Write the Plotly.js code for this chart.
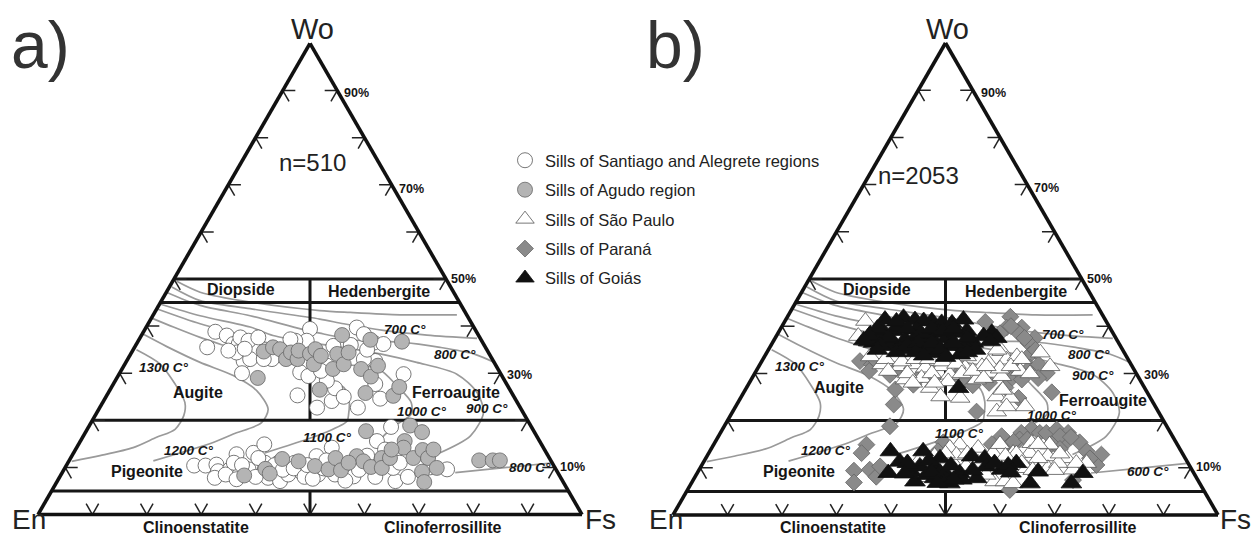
<!DOCTYPE html>
<html>
<head>
<meta charset="utf-8">
<script src="https://cdn.plot.ly/plotly-3.0.1.min.js"></script>
<style>html,body{margin:0;padding:0;background:#fff}#chart{width:1253px;height:538px}</style>
</head>
<body>
<div id="chart"></div>
<script>
// Compositions: Wo in %, pos = position along the En-Fs base in % (pos = Fs + Wo/2)
const santiagoPos = [32.6,31.1,34.7,35.9,36.9,37.2,38.7,40.5,37.8,37.5,36.5,39.0,50.0,49.4,47.3,58.6,59.9,61.7,63.5,48.2,49.7,47.7,51.3,54.0,54.6,56.2,58.8,62.9,62.0,53.1,67.2,54.3,53.1,62.0,59.9,46.4,43.0,35.0,38.0,41.5,52.0,57.5,60.5,
  28.7,30.8,32.8,33.1,35.3,36.5,39.6,41.6,32.5,38.7,41.7,42.3,44.5,46.0,48.5,50.0,51.5,51.2,54.0,58.0,62.3,64.9,65.7,65.3,75.2,59.5,47.2,41.7,37.1,54.6,63.8,44.2,
  34.5,36.0,37.5,40.0,43.5,45.0,47.0,49.0,49.5,50.5,52.5,53.0,55.5,56.5,59.0,60.5,62.0,66.5,68.0,72.0,40.5,36.5];
const santiagoWo  = [38.8,35.5,38.0,36.2,36.2,37.6,36.9,37.6,32.6,30.0,34.4,33.0,39.4,36.9,36.9,39.7,38.3,36.5,36.2,30.2,29.4,25.3,22.7,24.1,26.8,25.0,22.7,24.6,27.7,28.4,29.8,35.8,31.6,32.6,33.0,37.2,33.0,34.8,35.2,33.0,30.5,36.0,35.0,
  10.4,10.4,10.6,9.2,9.6,12.8,13.1,14.9,7.8,9.6,11.0,7.8,7.1,8.5,8.9,8.9,8.5,12.4,14.2,8.1,15.6,18.6,7.1,9.9,9.6,11.0,11.0,9.6,8.5,8.5,13.8,11.0,
  8.5,11.0,10.5,8.0,10.5,9.5,9.8,8.0,10.5,7.6,9.8,11.5,10.0,7.2,9.5,12.5,8.0,11.0,8.0,10.0,12.0,7.5];
const agudoPos = [41.5,43.2,44.5,45.6,46.5,47.7,47.9,50.0,50.7,51.0,52.0,55.0,55.9,54.2,56.2,57.1,59.4,61.2,62.5,61.1,66.9,51.8,60.2,65.3,66.4,40.4,
  37.9,41.8,42.6,44.9,47.9,50.9,53.4,54.7,55.7,58.6,59.8,61.2,63.2,63.2,64.7,60.3,68.4,70.6,67.4,67.2,69.0,70.7,71.7,72.7,73.3,70.6,71.0,81.1,83.6,84.9,57.1,65.0];
const agudoWo  = [34.6,35.5,35.1,33.0,34.4,33.0,34.8,34.1,31.9,35.1,33.7,34.1,38.1,30.9,31.9,34.4,30.9,29.3,31.6,37.1,36.7,26.5,25.8,25.2,27.1,29.0,
  8.3,9.7,8.7,11.8,11.3,10.3,9.6,12.0,9.4,12.4,11.3,10.1,12.0,9.9,12.0,17.7,18.9,17.5,15.6,14.2,12.0,13.7,12.0,13.8,9.9,9.1,6.9,11.5,11.5,11.5,11.0,13.8];
const saoPauloPos = [35.3,34.0,37.7,38.3,41.7,44.1,46.3,42.6,45.6,49.3,50.8,47.2,49.1,52.7,53.6,57.9,60.3,61.2,58.2,55.7,67.4,69.2,63.7,60.3,59.4,61.9,64.6,59.4,56.7,40.5,53.9,36.2,63.1,50.5,61.2,
  39.0,42.0,44.5,47.0,49.5,52.0,39.5,43.0,47.5,53.0,55.0,57.0,60.0,62.0,64.0,59.5,65.5,60.5,57.5,48.0,44.0,
  52.6,50.8,56.0,58.7,62.4,65.8,65.5,69.1,68.8,72.2,75.9,59.3,59.0,60.9,62.4,57.5,64.9,68.8,70.7,45.3,43.1,51.4,53.8,73.4,52.0,
  60.0,63.0,67.0,71.0,54.0,48.0,50.0,67.0,74.0,56.0,61.0,64.0,66.0,70.0,47.0,52.0];
const saoPauloWo  = [41.1,37.9,34.0,31.9,31.5,31.9,31.2,28.7,29.0,31.5,29.7,26.9,25.1,24.8,31.2,32.2,34.7,32.9,30.1,28.7,34.4,31.5,30.5,29.4,25.1,24.8,23.0,21.9,31.5,33.3,33.6,33.6,33.6,28.3,23.0,
  33.0,32.5,33.0,33.0,32.5,32.0,30.5,30.0,30.0,30.0,30.5,29.0,31.0,31.5,33.0,35.0,30.0,26.5,31.5,28.0,28.0,
  14.9,14.2,14.2,13.1,13.1,15.2,13.1,14.9,12.4,12.0,11.0,10.6,7.1,7.1,6.7,8.5,9.9,9.9,11.0,11.7,11.0,11.0,10.3,9.6,12.7,
  15.0,13.0,12.0,13.0,13.0,12.5,13.0,15.0,11.0,11.0,12.5,11.0,9.5,9.5,8.0,8.0];
const paranaPos = [34.3,36.5,39.8,40.8,40.5,44.1,47.8,52.1,53.6,61.9,57.3,61.2,64.0,63.4,66.4,65.2,65.5,65.5,67.1,68.6,61.9,64.0,69.5,63.4,55.7,
  60.0,62.0,64.5,66.5,63.0,67.0,61.0,58.0,37.0,41.0,45.0,55.0,36.0,
  39.8,35.5,34.6,33.2,33.2,36.1,37.3,38.0,49.6,48.6,60.3,65.8,63.9,67.3,68.5,70.4,72.5,72.2,74.6,75.9,78.6,77.7,61.8,71.0,63.6,73.4,61.8,
  62.5,65.0,69.5,71.0,73.0,76.5,58.5];
const paranaWo  = [32.6,31.9,29.7,26.6,23.4,27.6,29.0,29.7,28.7,42.0,40.9,39.7,39.7,38.6,37.5,36.5,34.0,31.2,31.9,30.1,28.7,28.7,26.0,24.8,21.9,
  38.5,40.0,37.5,35.0,31.0,29.0,27.0,28.0,33.0,31.0,29.0,27.5,30.5,
  18.8,14.9,13.1,9.4,6.9,9.6,8.1,10.3,15.4,13.5,16.7,18.2,17.4,17.4,17.4,18.1,17.4,15.6,15.4,13.5,12.8,10.6,14.9,16.7,16.0,7.4,5.3,
  15.5,16.0,15.0,14.0,16.5,12.0,15.0];
const goiasPos = [36.2,38.9,37.7,40.5,42.3,44.4,46.0,47.5,49.3,51.2,53.3,53.9,40.5,42.6,44.4,46.9,48.7,50.2,52.1,55.1,53.6,50.8,48.4,46.3,43.8,41.7,39.2,36.8,58.5,57.0,59.4,58.2,52.7,49.6,47.2,52.4,35.9,38.3,44.7,41.7,
  37.5,39.5,38.0,41.0,43.0,45.5,47.5,49.5,51.5,54.0,55.5,41.0,43.0,45.0,47.5,49.0,51.5,54.0,50.0,44.5,46.0,37.5,36.0,35.0,
  39.9,39.5,41.6,45.9,43.7,44.4,45.3,48.0,49.0,48.0,50.2,50.8,52.6,54.8,57.2,55.7,60.3,63.0,67.0,65.5,73.1,75.2,57.5,
  46.5,47.0,49.0,49.5,51.0,47.5,53.0,43.0,42.5,55.0,59.0,61.5,62.0,51.5,48.5];
const goiasWo  = [38.3,41.4,37.9,39.0,41.8,41.3,41.1,41.1,40.7,40.6,41.4,39.0,36.5,37.2,37.5,37.9,38.6,37.5,38.6,36.5,35.8,35.8,36.1,35.8,35.4,35.1,35.8,36.5,38.6,37.9,37.5,36.8,34.0,34.4,34.4,26.9,36.8,39.3,39.3,40.0,
  39.5,37.5,36.0,41.0,39.5,38.5,39.5,39.0,39.5,37.5,35.0,34.5,36.0,36.5,36.5,35.0,36.5,34.5,33.5,34.5,33.8,35.0,38.0,37.0,
  13.5,8.9,11.3,13.5,9.2,7.1,10.3,10.3,12.0,7.8,8.5,6.7,8.9,12.4,12.0,7.8,9.6,11.0,9.2,6.7,6.7,8.9,10.3,
  8.5,11.5,9.0,7.0,10.5,9.0,7.5,11.0,8.8,9.5,11.0,10.5,9.0,7.5,6.8];

// Isotherms, same (pos, Wo) curves on both diagrams
const iso600Pos  = [25.5,29.8,39.0,51.8,57.4,66.6,77.0];
const iso600Wo   = [49.5,47.2,45.1,43.3,42.9,42.4,42.4];
const iso700Pos  = [24.6,29.8,39.0,51.8,56.2,63.5,71.5,80.7];
const iso700Wo   = [48.3,45.4,43.7,41.5,40.5,39.1,38.1,37.4];
const iso800Pos  = [23.6,29.8,39.0,47.0,51.8,58.6,66.6,73.9,80.1,84.4];
const iso800Wo   = [47.2,44.4,42.2,39.8,38.5,37.0,36.6,35.5,34.1,32.0];
const iso900Pos  = [22.4,29.8,39.0,43.2,50.0,56.0,62.9,69.6,77.0,80.7,81.9,79.5,73.3];
const iso900Wo   = [44.7,42.2,39.8,38.0,36.5,35.5,34.1,32.3,29.8,25.9,21.7,16.7,12.8];
const iso1000Pos = [21.8,29.8,35.9,42.0,50.0,55.0,62.6,66.0,68.6,68.6,65.5,62.3];
const iso1000Wo  = [43.7,40.5,38.6,36.5,33.5,32.0,30.9,27.3,23.8,21.3,18.8,15.3];
const iso1100Pos = [20.9,24.9,29.8,34.7,40.8,48.0,53.1,56.2,57.2,57.1,56.8,52.8,48.5,41.7];
const iso1100Wo  = [41.7,39.8,37.6,35.7,33.4,31.5,28.7,27.0,24.1,21.3,19.8,17.4,15.6,13.1];
const iso1200Pos = [19.3,23.6,29.8,35.9,40.2,42.3,41.1,35.9,32.2,21.2];
const iso1200Wo  = [38.3,35.7,32.3,29.5,26.3,22.4,19.5,17.1,15.3,11.4];
const iso1300Pos = [18.1,22.4,25.2,27.0,26.8,25.2,21.8,17.5,11.4,6.2];
const iso1300Wo  = [35.0,32.0,27.7,23.8,21.0,18.1,16.4,14.2,12.5,11.3];
const isoLowPos  = [76.7,86.2,94.8];
const isoLowWo   = [8.9,10.0,11.0];

const fieldBoundaries = [50,45,20,5];      // Wo % of the horizontal field boundaries
const sideTicks = [90,80,70,60,50,40,30,20,10];
const baseTicks = [10,20,30,40,50,60,70,80,90];

const W = 1253, H = 538;
const toTernary = (pos, wo) => {
  const a = [], b = [], c = [];
  pos.forEach((p, i) => {
    if (p === null) { a.push(null); b.push(null); c.push(null); return; }
    const fs = p - wo[i] / 2;
    a.push(wo[i]); c.push(fs); b.push(100 - wo[i] - fs);
  });
  return {a, b, c};
};

function structure(sub) {
  const out = [];
  // isotherms
  [[iso600Pos,iso600Wo],[iso700Pos,iso700Wo],[iso800Pos,iso800Wo],[iso900Pos,iso900Wo],[iso1000Pos,iso1000Wo],
   [iso1100Pos,iso1100Wo],[iso1200Pos,iso1200Wo],[iso1300Pos,iso1300Wo],[isoLowPos,isoLowWo]].forEach(s => {
    out.push(Object.assign({type:'scatterternary', subplot:sub, mode:'lines', showlegend:false, hoverinfo:'skip', cliponaxis:false,
      line:{color:'#9a9a9a', width:1.7, shape:'spline', smoothing:0.8}}, toTernary(s[0], s[1])));
  });
  // field boundaries
  const bp = [], bw = [];
  fieldBoundaries.forEach(w => { bp.push(w / 2, 100 - w / 2, null); bw.push(w, w, null); });
  bp.push(50, 50, null, 50, 50); bw.push(50, 20, null, 5, 0);
  out.push(Object.assign({type:'scatterternary', subplot:sub, mode:'lines', showlegend:false, hoverinfo:'skip', cliponaxis:false,
    line:{color:'#161616', width:3}}, toTernary(bp, bw)));
  // arrow-shaped ticks
  const t = 2.3, ta = [], tb = [], tc = [];
  const seg = (p1, p2) => { [p1, p2].forEach(p => { ta.push(p[0]); tb.push(p[1]); tc.push(p[2]); }); ta.push(null); tb.push(null); tc.push(null); };
  sideTicks.forEach(w => {
    const en = 100 - w;
    seg([w, en - t, t], [w, en, 0]);
    seg([w, en, 0], [w - t, en, t]);
    seg([w, t, en - t], [w, 0, en]);
    seg([w, 0, en], [w - t, t, en]);
  });
  baseTicks.forEach(f => {
    seg([t, 100 - f, f - t], [0, 100 - f, f]);
    seg([0, 100 - f, f], [t, 100 - f - t, f]);
  });
  out.push({type:'scatterternary', subplot:sub, mode:'lines', a:ta, b:tb, c:tc, showlegend:false, hoverinfo:'skip', cliponaxis:false,
    line:{color:'#222', width:1.5}});
  return out;
}

function series(name, sub, pos, wo, symbol, size, fill, edge, rank) {
  return Object.assign({type:'scatterternary', subplot:sub, mode:'markers', name, legendgroup:name, legendrank:rank, cliponaxis:false,
    marker:{symbol, size, color:fill, line:{color:edge, width:0.8}}}, toTernary(pos, wo));
}

const traces = [
  ...structure('ternary'),
  ...structure('ternary2'),
  series('Sills of Santiago and Alegrete regions','ternary',santiagoPos,santiagoWo,'circle',15,'#ffffff','#555555',1),
  series('Sills of Agudo region','ternary',agudoPos,agudoWo,'circle',15,'#b4b4b4','#666666',2),
  series('Sills of Paraná','ternary2',paranaPos,paranaWo,'diamond',13,'#8a8a8a','#666666',4),
  series('Sills of São Paulo','ternary2',saoPauloPos,saoPauloWo,'triangle-up',17,'#ffffff','#555555',3),
  series('Sills of Goiás','ternary2',goiasPos,goiasWo,'triangle-up',18,'#111111','#111111',5),
];

const lab = (text, x, y, size, color) => ({text, x:x/W, y:1-y/H, xref:'paper', yref:'paper', showarrow:false,
  xanchor:'center', yanchor:'middle', font:{size, color:color||'#151515'}});
const bold = (t, x, y) => lab('<b>'+t+'</b>', x, y, 16);
const temp = (t, x, y) => lab('<b><i>'+t+' C°</i></b>', x, y, 13.5);
const pct  = (t, x, y) => lab('<b>'+t+'</b>', x, y, 12.5);

const annotations = [
  lab('a)', 40, 45, 66, '#333'), lab('b)', 675, 45, 66, '#333'),
  lab('Wo', 312, 29, 29, '#222'), lab('En', 29, 519, 28, '#222'), lab('Fs', 600, 519, 28, '#222'),
  lab('Wo', 947, 29, 29, '#222'), lab('En', 666, 519, 28, '#222'), lab('Fs', 1235, 519, 28, '#222'),
  lab('n=510', 312, 163, 24, '#222'), lab('n=2053', 918, 176, 24, '#222'),
  bold('Diopside',241,289), bold('Hedenbergite',379,291), bold('Augite',198,392), bold('Pigeonite',147,471), bold('Ferroaugite',456,392),
  bold('Clinoenstatite',196,527), bold('Clinoferrosillite',442,527),
  bold('Diopside',877,289), bold('Hedenbergite',1016,291), bold('Augite',839,387), bold('Pigeonite',799,471), bold('Ferroaugite',1103,400),
  bold('Clinoenstatite',833,527), bold('Clinoferrosillite',1077,527),
  temp('1300',164,367), temp('1200',189,450), temp('1100',327,437), temp('1000',422,411), temp('900',487,408), temp('800',455,354), temp('700',405,329), temp('800',530,467),
  temp('1300',800,366), temp('1200',826,450), temp('1100',959,433), temp('1000',1052,415), temp('900',1093,375), temp('800',1089,354), temp('700',1063,334), temp('600',1148,471),
  pct('90%',357,93), pct('70%',411,189), pct('50%',463,279), pct('30%',519,375), pct('10%',572,467),
  pct('90%',993,93), pct('70%',1046,188), pct('50%',1099,279), pct('30%',1156,375), pct('10%',1208,467),
];

const axis = {showline:true, linewidth:3.6, linecolor:'#111', layer:'above traces', showgrid:false, showticklabels:false, ticks:'', min:0, title:{text:''}};
const ternary = (x0, x1) => ({sum:100, bgcolor:'rgba(0,0,0,0)',
  domain:{x:[x0/W, x1/W], y:[(H-515)/H, (H-43)/H]},
  aaxis:Object.assign({}, axis), baxis:Object.assign({}, axis), caxis:Object.assign({}, axis)});

const layout = {
  width:W, height:H, margin:{l:0,r:0,t:0,b:0}, paper_bgcolor:'#fff', plot_bgcolor:'#fff',
  font:{family:'"Liberation Sans", Arial, sans-serif', color:'#151515'},
  ternary:ternary(38,582), ternary2:ternary(673,1218),
  annotations,
  showlegend:true,
  legend:{x:505/W, y:1-143/H, xanchor:'left', yanchor:'top', bgcolor:'rgba(0,0,0,0)', traceorder:'grouped', tracegroupgap:5,
    font:{size:16.5, color:'#222'}, itemclick:false, itemdoubleclick:false},
  hovermode:false
};

Plotly.newPlot('chart', traces, layout, {displayModeBar:false, responsive:false});
</script>
</body>
</html>
